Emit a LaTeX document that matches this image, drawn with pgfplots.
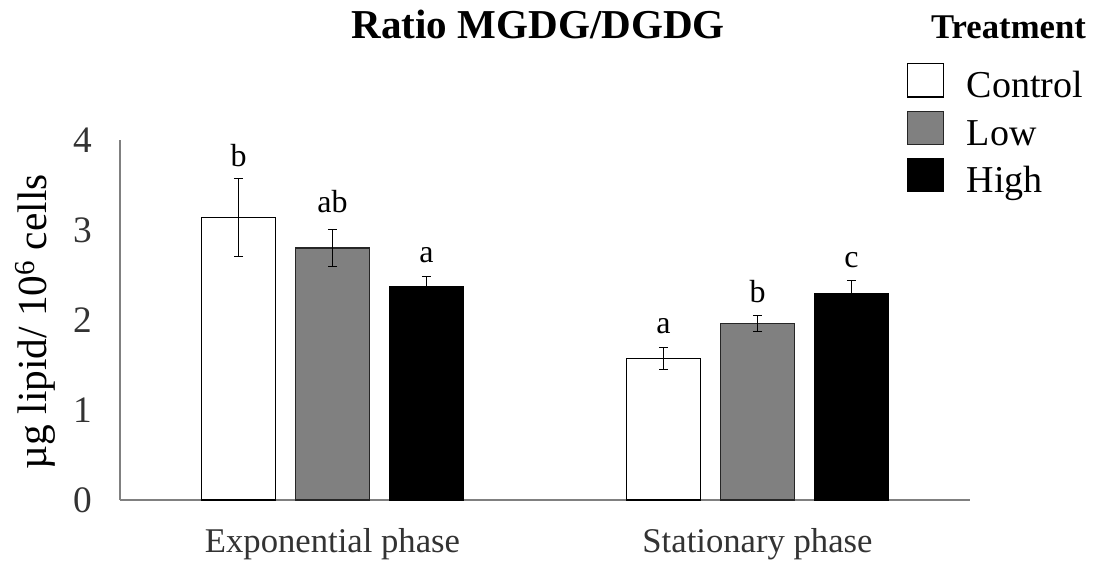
\documentclass[border=0pt]{standalone}
\usepackage{pgfplots}
\pgfplotsset{compat=1.18}
\usepackage{fontspec}
\setmainfont{Liberation Serif}
\definecolor{midgray}{RGB}{128,128,128}
\definecolor{axgray}{RGB}{128,128,128}
\begin{document}
\begin{tikzpicture}
\useasboundingbox (-90pt,-52.5pt) rectangle (729.75pt,375pt);
\begin{axis}[
  at={(0,0)}, anchor=south west,
  scale only axis,
  width=637.5pt, height=270pt,
  xmin=-0.5, xmax=1.5,
  ymin=0, ymax=4,
  axis x line*=bottom,
  axis y line*=left,
  axis line style={axgray, line width=1.2pt},
  xtick={0,1},
  xticklabels={Exponential phase, Stationary phase},
  ytick={0,1,2,3,4},
  major tick length=0pt,
  /pgf/number format/assume math mode=true,
  xticklabel style={font=\fontsize{26}{30}\selectfont, anchor=base, yshift=-39.75pt, text=black!80},
  yticklabel style={font=\fontsize{28}{32}\selectfont, inner sep=0pt, anchor=east, xshift=-21pt, text=black!80},
  ylabel={µg lipid/ 10\textsuperscript{6} cells},
  every axis y label/.style={at={(axis description cs:-0.1,0.495)}, rotate=90, anchor=center, font=\fontsize{31}{35}\selectfont},
  ybar,
  bar width=55.5pt,
  error bars/y dir=both,
  error bars/y explicit,
  error bars/error bar style={black, line width=0.75pt},
  error bars/error mark options={rotate=90, mark size=3.4pt, line width=0.75pt, black},
  legend style={at={(rel axis cs:0.921,1.222)}, anchor=north west, draw=none, fill=none,
    font=\fontsize{28.5}{32}\selectfont, row sep=2.6pt, column sep=17pt,
    nodes={inner sep=0pt, text depth=7pt}},
  legend cell align=left,
  legend image code/.code={\draw[#1, line width=0.9pt] (0pt,-5.6pt) rectangle (27pt,19.4pt);},
  clip=false,
]
\addplot[fill=white, draw=black, line width=0.9pt, bar shift=-70.5pt] coordinates {
  (0,3.14) +- (0,0.43)
  (1,1.57) +- (0,0.12)
};
\addlegendentry{Control}
\addplot[fill=midgray, draw=black!85, line width=0.9pt, bar shift=0pt] coordinates {
  (0,2.80) +- (0,0.21)
  (1,1.96) +- (0,0.09)
};
\addlegendentry{Low}
\addplot[fill=black, draw=black, line width=0.9pt, bar shift=70.5pt] coordinates {
  (0,2.37) +- (0,0.11)
  (1,2.29) +- (0,0.15)
};
\addlegendentry{High}
\begin{scope}[every node/.style={font=\fontsize{24}{28}\selectfont, anchor=base}]
\node[yshift=9pt] at (axis cs:-0.221,3.57) {b};
\node[yshift=12.5pt] at (axis cs:0,3.01) {ab};
\node[yshift=10.5pt] at (axis cs:0.221,2.48) {a};
\node[yshift=11pt] at (axis cs:0.779,1.69) {a};
\node[yshift=9.5pt] at (axis cs:1,2.05) {b};
\node[yshift=9.5pt] at (axis cs:1.221,2.44) {c};
\end{scope}
\node[font=\bfseries\fontsize{30.8}{34}\selectfont, anchor=base] at (rel axis cs:0.492,1.281) {Ratio MGDG/DGDG};
\node[font=\bfseries\fontsize{26}{30}\selectfont, anchor=base west, inner sep=0pt] at (rel axis cs:0.954,1.283) {Treatment};
\end{axis}
\end{tikzpicture}
\end{document}
